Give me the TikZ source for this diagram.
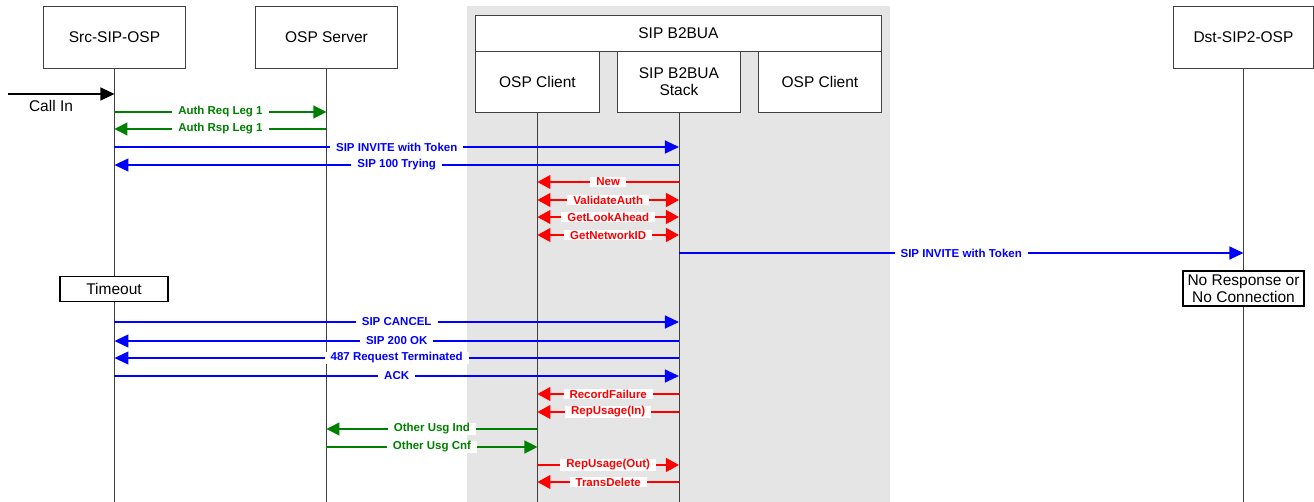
\documentclass[tikz,border=0pt]{standalone}
\usepackage{fontspec}
\setmainfont{Liberation Sans}
\usetikzlibrary{arrows.meta}

% one message between two lifelines: style, from, to, row, label
\newcommand\msgat[5]{\draw[#1] (#2.south |- 0,#4) -- node[lbl]{#5} (#3.south |- 0,#4);}

\begin{document}
\begin{tikzpicture}[x=1pt,y=-1pt,
  box/.style={draw=black!75, line width=0.9pt, fill=white, align=center,
    inner sep=0pt, font=\fontsize{15.5}{17}\selectfont},
  note/.style={box, draw=black, line width=1.1pt},
  life/.style={draw=black!75, line width=0.9pt},
  lbl/.style={fill=white, inner xsep=6pt, inner ysep=1pt,
    font=\fontsize{11.5}{13}\selectfont\bfseries},
  bmsg/.style={color=blue, line width=1.2pt, -{Triangle[length=14pt,width=13pt]}},
  gmsg/.style={color=green!50!black, line width=1.2pt, -{Triangle[length=13pt,width=13pt]}},
  rmsg/.style={color=red, line width=1.2pt, -{Triangle[length=13pt,width=14pt]}},
  rboth/.style={color=red, line width=1.2pt, {Triangle[length=13pt,width=14pt]}-{Triangle[length=13pt,width=14pt]}},
]
\useasboundingbox (0,0) rectangle (1314,502);

% B2BUA shaded region
\fill[gray!20] (467,6) rectangle (890,502);

% participants
\node[box, minimum width=142pt, minimum height=62pt, anchor=north west] (src) at (43,6) {Src-SIP-OSP};
\node[box, minimum width=142pt, minimum height=62pt, anchor=north west] (osp) at (255,6) {OSP Server};
\node[box, minimum width=406pt, minimum height=36pt, anchor=north west] (b2bua) at (475,15) {SIP B2BUA};
\node[box, minimum width=124pt, minimum height=61pt, anchor=north west] (ospc1) at (475,51) {OSP Client};
\node[box, minimum width=123pt, minimum height=61pt, anchor=north west] (stack) at (617,51) {SIP B2BUA\\Stack};
\node[box, minimum width=123pt, minimum height=61pt, anchor=north west] (ospc2) at (758,51) {OSP Client};
\node[box, minimum width=140pt, minimum height=62pt, anchor=north west] (dst) at (1173,6) {Dst-SIP2-OSP};

% lifelines
\foreach \p in {src,osp,ospc1,stack,dst}
  \draw[life] (\p.south) -- (\p.south |- 0,502);

% incoming call
\coordinate (callin) at (8,94);
\draw[line width=1.2pt, -{Triangle[length=14pt,width=13pt]}] (callin) -- (src.south |- 0,94);
\node[font=\fontsize{15.5}{17}\selectfont] (callinlbl) at (51,106) {Call In};

% messages
\msgat{gmsg}{src}{osp}{112}{Auth Req Leg 1}
\msgat{gmsg}{osp}{src}{129}{Auth Rsp Leg 1}
\msgat{bmsg}{src}{stack}{147}{SIP INVITE with Token}
\msgat{bmsg}{stack}{src}{165}{SIP 100 Trying}
\msgat{rmsg}{stack}{ospc1}{182}{New}
\msgat{rboth}{ospc1}{stack}{200}{ValidateAuth}
\msgat{rboth}{ospc1}{stack}{217}{GetLookAhead}
\msgat{rboth}{ospc1}{stack}{235}{GetNetworkID}
\msgat{bmsg}{stack}{dst}{253}{SIP INVITE with Token}

% notes on lifelines
\node[note, minimum width=108pt, minimum height=25pt] (timeout) at (114,289) {Timeout};
\node[note, minimum width=121pt, minimum height=35pt, font=\fontsize{15.5}{16.5}\selectfont] (noresp) at (1243.5,288.5) {No Response or\\No Connection};

\msgat{bmsg}{src}{stack}{322}{SIP CANCEL}
\msgat{bmsg}{stack}{src}{341}{SIP 200 OK}
\msgat{bmsg}{stack}{src}{358}{487 Request Terminated}
\msgat{bmsg}{src}{stack}{376}{ACK}
\msgat{rmsg}{stack}{ospc1}{394}{RecordFailure}
\msgat{rmsg}{stack}{ospc1}{412}{RepUsage(In)}
\msgat{gmsg}{ospc1}{osp}{429}{Other Usg Ind}
\msgat{gmsg}{osp}{ospc1}{447}{Other Usg Cnf}
\msgat{rmsg}{ospc1}{stack}{465}{RepUsage(Out)}
\msgat{rmsg}{stack}{ospc1}{482}{TransDelete}
\end{tikzpicture}
\end{document}
